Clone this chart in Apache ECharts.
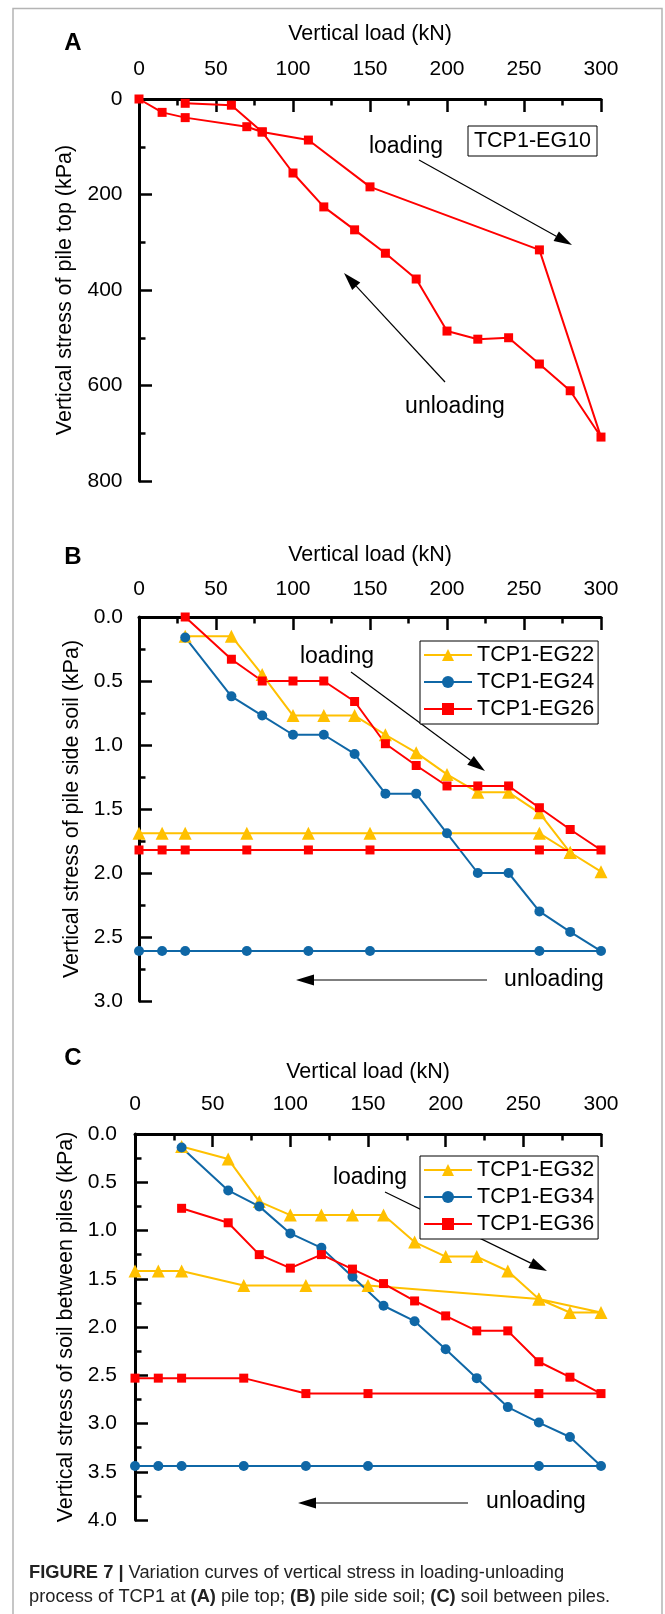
<!DOCTYPE html>
<html>
<head>
<meta charset="utf-8">
<script src="https://cdn.jsdelivr.net/npm/echarts@6.0.0/dist/echarts.min.js"></script>
<style>
  html, body { margin: 0; padding: 0; background: #fff; }
  #chart { width: 665px; height: 1614px; }
</style>
</head>
<body>
<div id="chart"></div>
<script>
// panel A - pile top (loading then unloading path)
const eg10Load = [0, 15, 30, 70, 80, 110, 150, 260, 300, 280, 260, 240, 220, 200, 180, 160, 140, 120, 100, 80, 60, 30]
const eg10Stress = [0, 28, 39, 58, 69, 86, 184, 316, 708, 611, 555, 500, 503, 486, 377, 323, 274, 226, 155, 69, 13, 9]

// panel B - pile side soil
const eg22Load = [30, 60, 80, 100, 120, 140, 160, 180, 200, 220, 240, 260, 280, 300, 280, 260, 150, 110, 70, 30, 15, 0]
const eg22Stress = [0.15, 0.15, 0.45, 0.77, 0.77, 0.77, 0.92, 1.06, 1.23, 1.37, 1.37, 1.53, 1.84, 1.99, 1.84, 1.69, 1.69, 1.69, 1.69, 1.69, 1.69, 1.69]
const eg24Load = [30, 60, 80, 100, 120, 140, 160, 180, 200, 220, 240, 260, 280, 300, 260, 150, 110, 70, 30, 15, 0]
const eg24Stress = [0.16, 0.62, 0.77, 0.92, 0.92, 1.07, 1.38, 1.38, 1.69, 2.0, 2.0, 2.3, 2.46, 2.61, 2.61, 2.61, 2.61, 2.61, 2.61, 2.61, 2.61]
const eg26Load = [30, 60, 80, 100, 120, 140, 160, 180, 200, 220, 240, 260, 280, 300, 260, 150, 110, 70, 30, 15, 0]
const eg26Stress = [0, 0.33, 0.5, 0.5, 0.5, 0.66, 0.99, 1.16, 1.32, 1.32, 1.32, 1.49, 1.66, 1.82, 1.82, 1.82, 1.82, 1.82, 1.82, 1.82, 1.82]

// panel C - soil between piles
const eg32Load = [30, 60, 80, 100, 120, 140, 160, 180, 200, 220, 240, 260, 280, 300, 260, 150, 110, 70, 30, 15, 0]
const eg32Stress = [0.13, 0.26, 0.70, 0.84, 0.84, 0.84, 0.84, 1.12, 1.27, 1.27, 1.42, 1.71, 1.85, 1.85, 1.71, 1.57, 1.57, 1.57, 1.42, 1.42, 1.42]
const eg34Load = [30, 60, 80, 100, 120, 140, 160, 180, 200, 220, 240, 260, 280, 300, 260, 150, 110, 70, 30, 15, 0]
const eg34Stress = [0.14, 0.585, 0.75, 1.03, 1.18, 1.48, 1.78, 1.94, 2.23, 2.53, 2.83, 2.99, 3.14, 3.44, 3.44, 3.44, 3.44, 3.44, 3.44, 3.44, 3.44]
const eg36Load = [30, 60, 80, 100, 120, 140, 160, 180, 200, 220, 240, 260, 280, 300, 260, 150, 110, 70, 30, 15, 0]
const eg36Stress = [0.77, 0.92, 1.25, 1.39, 1.25, 1.40, 1.55, 1.73, 1.885, 2.04, 2.04, 2.36, 2.52, 2.69, 2.69, 2.69, 2.69, 2.53, 2.53, 2.53, 2.53]

const RED = '#ff0000'
const GOLD = '#ffc000'
const BLUE = '#0f67a6'
const FONT = '"Liberation Sans", Arial, Helvetica, sans-serif'

const zip = (xs, ys) => xs.map((x, i) => [x, ys[i]])

const makeX = (gi, nameGap, labelMargin) => ({
  gridIndex: gi, type: 'value', position: 'top', min: 0, max: 300, interval: 50,
  name: 'Vertical load (kN)', nameLocation: 'middle', nameGap: nameGap,
  nameTextStyle: { fontSize: 21.5, color: '#000', fontFamily: FONT },
  axisLine: { onZero: false, lineStyle: { color: '#000', width: 3 } },
  axisTick: { inside: true, length: 13, lineStyle: { color: '#000', width: 2.5 } },
  minorTick: { show: true, splitNumber: 2, length: 6.5, lineStyle: { color: '#000', width: 2.5 } },
  axisLabel: { margin: labelMargin, fontSize: 21, color: '#000', fontFamily: FONT },
  splitLine: { show: false }
})

const makeY = (gi, name, max, interval, nameGap, labelMargin, fmt) => ({
  gridIndex: gi, type: 'value', inverse: true, min: 0, max: max, interval: interval,
  name: name, nameLocation: 'middle', nameGap: nameGap, nameRotate: 90,
  nameTextStyle: { fontSize: 21.5, color: '#000', fontFamily: FONT },
  axisLine: { show: true, onZero: false, lineStyle: { color: '#000', width: 3 } },
  axisTick: { show: true, inside: true, length: 13, lineStyle: { color: '#000', width: 2.5 } },
  minorTick: { show: true, splitNumber: 2, length: 6.5, lineStyle: { color: '#000', width: 2.5 } },
  axisLabel: { margin: labelMargin, fontSize: 21, color: '#000', fontFamily: FONT, formatter: fmt },
  splitLine: { show: false }
})

const line = (name, gi, data, color, symbol, size) => ({
  name: name, type: 'line', xAxisIndex: gi, yAxisIndex: gi, data: data,
  symbol: symbol, symbolSize: size, showSymbol: true,
  lineStyle: { color: color, width: 2 },
  itemStyle: { color: color },
  z: 3, animation: false
})

// arrow: thin shaft + filled head, pixel coords
const arrow = (x1, y1, x2, y2) => {
  const a = Math.atan2(y2 - y1, x2 - x1)
  const len = 18, hw = 5.5
  const bx = x2 - len * Math.cos(a), by = y2 - len * Math.sin(a)
  const px = -Math.sin(a) * hw, py = Math.cos(a) * hw
  return [
    { type: 'line', z: 1, shape: { x1: x1, y1: y1, x2: bx, y2: by }, style: { stroke: '#000', lineWidth: 1.2 } },
    { type: 'polygon', z: 1, shape: { points: [[x2, y2], [bx + px, by + py], [bx - px, by - py]] }, style: { fill: '#000' } }
  ]
}

const txt = (s, x, y, size, weight) => ({
  type: 'text', z: 5,
  style: { text: s, x: x, y: y, fontSize: size, fontWeight: weight || 'normal', fontFamily: FONT, fill: '#000', align: 'center', verticalAlign: 'middle' }
})

const legendBox = (top, names) => ({
  orient: 'vertical', left: 420, top: top, padding: [3, 4, 4, 3],
  itemWidth: 48, itemHeight: 15, itemGap: 5,
  borderColor: '#000', borderWidth: 1, borderRadius: 0, backgroundColor: '#fff',
  textStyle: { fontSize: 21.5, color: '#000', fontFamily: FONT, lineHeight: 22 },
  selectedMode: false, z: 10, data: names
})

const chart = echarts.init(document.getElementById('chart'), null, { renderer: 'canvas' })
chart.setOption({
  backgroundColor: '#fff',
  animation: false,
  grid: [
    { left: 139, top: 99, width: 462, height: 382 },
    { left: 139, top: 617, width: 462, height: 384 },
    { left: 135, top: 1134, width: 466, height: 386 }
  ],
  xAxis: [makeX(0, 54, 19), makeX(1, 51, 17), makeX(2, 51, 19)],
  yAxis: [
    makeY(0, 'Vertical stress of pile top (kPa)', 800, 200, 57, 16.5, v => v),
    makeY(1, 'Vertical stress of pile side soil (kPa)', 3, 0.5, 51, 16, v => v.toFixed(1)),
    makeY(2, 'Vertical stress of soil between piles (kPa)', 4, 0.5, 56, 18, v => v.toFixed(1))
  ],
  legend: [
    legendBox(641, ['TCP1-EG22', 'TCP1-EG24', 'TCP1-EG26']),
    legendBox(1156, ['TCP1-EG32', 'TCP1-EG34', 'TCP1-EG36'])
  ],
  series: [
    line('TCP1-EG10', 0, zip(eg10Load, eg10Stress), RED, 'rect', 9),
    line('TCP1-EG22', 1, zip(eg22Load, eg22Stress), GOLD, 'triangle', 13),
    line('TCP1-EG24', 1, zip(eg24Load, eg24Stress), BLUE, 'circle', 10),
    line('TCP1-EG26', 1, zip(eg26Load, eg26Stress), RED, 'rect', 9),
    line('TCP1-EG32', 2, zip(eg32Load, eg32Stress), GOLD, 'triangle', 13),
    line('TCP1-EG34', 2, zip(eg34Load, eg34Stress), BLUE, 'circle', 10),
    line('TCP1-EG36', 2, zip(eg36Load, eg36Stress), RED, 'rect', 9)
  ],
  graphic: [
    // outer frame
    { type: 'polyline', z: 0, shape: { points: [[13, 1614], [13, 8.5], [662, 8.5], [662, 1614]] }, style: { stroke: '#b4b4b4', lineWidth: 1.5, fill: null } },
    // panel letters
    txt('A', 73, 43, 24, 'bold'),
    txt('B', 73, 557, 24, 'bold'),
    txt('C', 73, 1058, 24, 'bold'),
    // panel A label box
    { type: 'rect', z: 4, shape: { x: 468, y: 126, width: 129, height: 30 }, style: { fill: '#fff', stroke: '#000', lineWidth: 1 } },
    txt('TCP1-EG10', 532.5, 141.5, 21.5),
    // annotations A
    txt('loading', 406, 147, 23),
    ...arrow(419, 160, 572, 245),
    txt('unloading', 455, 407, 23),
    ...arrow(445, 382, 344, 273),
    // annotations B
    txt('loading', 337, 657, 23),
    ...arrow(351, 672, 485, 771),
    txt('unloading', 554, 980, 23),
    ...arrow(487, 980, 296, 980),
    // annotations C
    txt('loading', 370, 1178, 23),
    ...arrow(385, 1192, 547, 1271),
    txt('unloading', 536, 1502, 23),
    ...arrow(468, 1503, 298, 1503),
    // caption
    {
      type: 'text', z: 5,
      style: {
        text: '{b|FIGURE 7 |} Variation curves of vertical stress in loading-unloading\nprocess of TCP1 at {b|(A)} pile top; {b|(B)} pile side soil; {b|(C)} soil between piles.',
        x: 29, y: 1561, fontSize: 18.3, lineHeight: 24, fill: '#222', fontFamily: FONT,
        rich: { b: { fontWeight: 'bold', fontSize: 18.3, fill: '#222', fontFamily: FONT } }
      }
    }
  ]
})
</script>
</body>
</html>
